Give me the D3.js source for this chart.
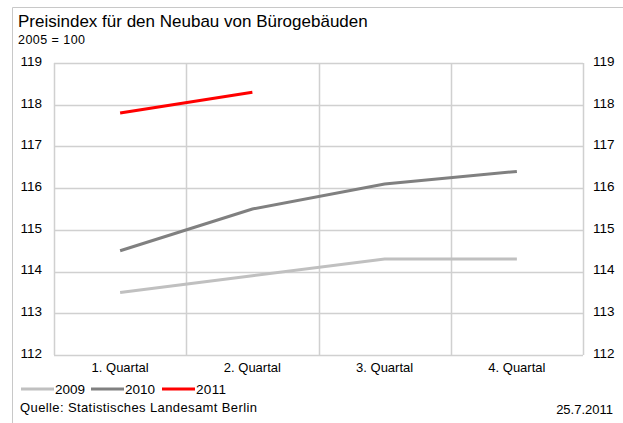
<!DOCTYPE html>
<html>
<head>
<meta charset="utf-8">
<script src="https://cdn.jsdelivr.net/npm/d3@7"></script>
<style>
  html, body { margin: 0; padding: 0; background: #fff; }
  svg { display: block; font-family: "Liberation Sans", Arial, sans-serif; }
</style>
</head>
<body>
<svg id="chart" width="623" height="423"></svg>
<script>
// Quarterly construction price index for office buildings in Berlin (2005 = 100)
const quarters = ["1. Quartal", "2. Quartal", "3. Quartal", "4. Quartal"];
const years = ["2009", "2010", "2011"];
const values2009 = [113.5, 113.9, 114.3, 114.3];
const values2010 = [114.5, 115.5, 116.1, 116.4];
const values2011 = [117.8, 118.3];
const yTicks = [112, 113, 114, 115, 116, 117, 118, 119];
const seriesColors = ["#c0c0c0", "#808080", "#ff0000"];

const series = [values2009, values2010, values2011].map((vals, i) => ({
  name: years[i],
  color: seriesColors[i],
  points: vals.map((v, j) => ({ q: quarters[j], v }))
}));

const svg = d3.select("#chart");
const plot = { left: 54, right: 583, top: 63, bottom: 355 };
const labelSize = 13;
const numberSize = 13.5;

// outer frame
svg.append("path")
  .attr("d", "M12.5,423 V7.5 H623")
  .attr("fill", "none")
  .attr("stroke", "#c8c8c8")
  .attr("stroke-width", 1);

svg.append("text")
  .attr("x", 18).attr("y", 27)
  .attr("font-size", 17)
  .attr("fill", "#000")
  .text("Preisindex für den Neubau von Bürogebäuden");

svg.append("text")
  .attr("x", 18).attr("y", 44)
  .attr("font-size", 12.5)
  .attr("textLength", 67)
  .text("2005 = 100");

const x = d3.scaleBand().domain(quarters).range([plot.left, plot.right]).padding(0);
const y = d3.scaleLinear().domain([112, 119]).range([plot.bottom, plot.top]);

// horizontal gridlines
svg.append("g")
  .selectAll("line")
  .data(yTicks)
  .join("line")
  .attr("x1", plot.left).attr("x2", plot.right)
  .attr("y1", d => Math.round(y(d)) + 0.5).attr("y2", d => Math.round(y(d)) + 0.5)
  .attr("stroke", "#d0d0d0")
  .attr("stroke-width", 1.5);

// vertical category separators and plot borders
const vx = [plot.left, ...quarters.slice(1).map(q => x(q)), plot.right];
svg.append("g")
  .selectAll("line")
  .data(vx)
  .join("line")
  .attr("x1", d => Math.round(d) + 0.5).attr("x2", d => Math.round(d) + 0.5)
  .attr("y1", plot.top).attr("y2", plot.bottom)
  .attr("stroke", "#d0d0d0")
  .attr("stroke-width", 1.5);

// left and right value axes
const leftAxis = d3.axisLeft(y).tickValues(yTicks).tickSize(0).tickPadding(12).tickFormat(d3.format("d"));
const rightAxis = d3.axisRight(y).tickValues(yTicks).tickSize(0).tickPadding(10).tickFormat(d3.format("d"));

const gl = svg.append("g").attr("transform", `translate(${plot.left},-2)`).call(leftAxis);
const gr = svg.append("g").attr("transform", `translate(${plot.right},-2)`).call(rightAxis);
[gl, gr].forEach(g => {
  g.select(".domain").remove();
  g.selectAll("text").attr("font-size", numberSize).attr("fill", "#000")
    .attr("font-family", "Liberation Sans, Arial, sans-serif");
});

// category axis
const gx = svg.append("g").attr("transform", `translate(0,${plot.bottom})`)
  .call(d3.axisBottom(x).tickSize(0).tickPadding(8));
gx.select(".domain").remove();
gx.selectAll("text").attr("font-size", labelSize).attr("fill", "#000")
  .attr("font-family", "Liberation Sans, Arial, sans-serif");

// series lines
const line = d3.line()
  .x(d => x(d.q) + x.bandwidth() / 2)
  .y(d => y(d.v));

svg.append("g")
  .selectAll("path")
  .data(series)
  .join("path")
  .attr("d", d => line(d.points))
  .attr("fill", "none")
  .attr("stroke", d => d.color)
  .attr("stroke-width", 3);

// legend
const legendX = [21, 91, 162];
const leg = svg.append("g").selectAll("g")
  .data(series)
  .join("g")
  .attr("transform", (d, i) => `translate(${legendX[i]},389)`);
leg.append("line")
  .attr("x1", 0).attr("x2", 33)
  .attr("stroke", d => d.color)
  .attr("stroke-width", 3);
leg.append("text")
  .attr("x", 34).attr("y", 5)
  .attr("font-size", numberSize)
  .attr("textLength", 30)
  .text(d => d.name);

svg.append("text")
  .attr("x", 20).attr("y", 412)
  .attr("font-size", labelSize)
  .attr("textLength", 237)
  .text("Quelle: Statistisches Landesamt Berlin");

svg.append("text")
  .attr("x", 613).attr("y", 414)
  .attr("text-anchor", "end")
  .attr("font-size", labelSize)
  .text("25.7.2011");
</script>
</body>
</html>
